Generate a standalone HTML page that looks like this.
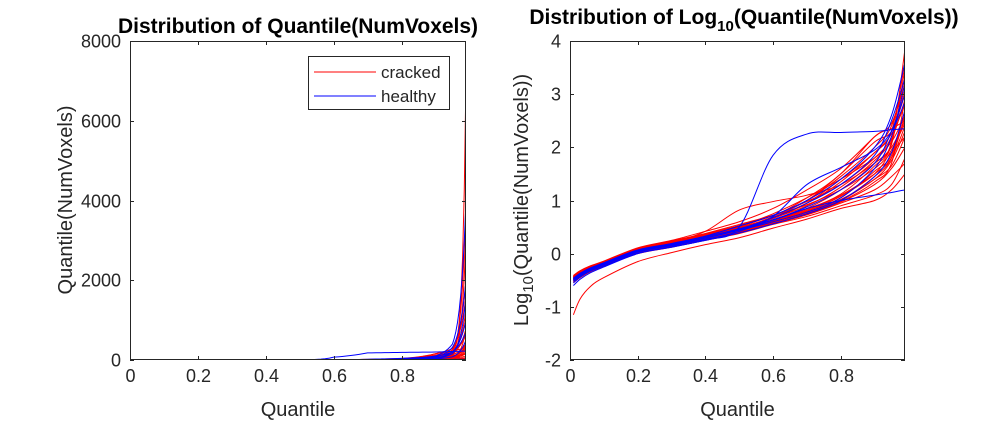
<!DOCTYPE html>
<html><head><meta charset="utf-8"><style>
html,body{margin:0;padding:0;background:#fff;}
svg{display:block;font-family:"Liberation Sans",Arial,sans-serif;}
</style></head><body>
<svg id="chart" width="1000" height="422">
<rect width="1000" height="422" fill="#fff"/>
<g id="left"></g>
<g id="right"></g>
</svg>
<script>
const quantileKnots=[0.01,0.03,0.06,0.1,0.2,0.3,0.4,0.5,0.6,0.7,0.8,0.9,0.95,0.99];
const crackedLog=[
[-0.45,-0.36,-0.27,-0.18,0.05,0.17,0.3,0.45,0.62,0.85,1.2,1.7,2.1,3.85],
[-0.42,-0.33,-0.24,-0.15,0.08,0.2,0.33,0.48,0.66,0.95,1.4,1.9,2.3,3.6],
[-0.5,-0.4,-0.3,-0.2,0.03,0.15,0.28,0.42,0.58,0.75,0.98,1.35,1.7,2.9],
[-0.48,-0.38,-0.28,-0.19,0.06,0.18,0.31,0.46,0.68,1.0,1.45,2.0,2.4,3.3],
[-0.44,-0.35,-0.25,-0.16,0.1,0.23,0.37,0.52,0.75,1.05,1.4,1.8,2.1,2.6],
[-0.55,-0.45,-0.34,-0.24,0.0,0.12,0.25,0.38,0.55,0.7,0.9,1.1,1.3,1.8],
[-0.46,-0.37,-0.27,-0.17,0.07,0.19,0.32,0.47,0.63,0.82,1.1,1.5,1.8,2.4],
[-0.43,-0.34,-0.24,-0.15,0.09,0.22,0.36,0.51,0.72,1.0,1.5,2.1,2.3,3.0],
[-0.47,-0.37,-0.28,-0.18,0.06,0.18,0.3,0.44,0.6,0.78,1.0,1.4,1.65,2.2],
[-0.52,-0.42,-0.31,-0.21,0.02,0.14,0.26,0.4,0.56,0.73,0.95,1.2,1.45,1.7],
[-0.45,-0.36,-0.26,-0.17,0.08,0.21,0.42,0.82,0.98,1.1,1.3,1.7,2.0,2.5],
[-0.41,-0.32,-0.23,-0.14,0.11,0.25,0.42,0.6,0.85,1.2,1.6,2.2,2.45,3.2],
[-0.49,-0.39,-0.29,-0.19,0.04,0.16,0.29,0.43,0.6,0.8,1.05,1.55,1.85,2.7],
[-1.15,-0.85,-0.62,-0.45,-0.15,0.02,0.17,0.3,0.48,0.65,0.85,1.0,1.2,1.5],
[-0.44,-0.35,-0.25,-0.16,0.09,0.22,0.35,0.5,0.67,0.9,1.25,1.75,2.15,2.9],
[-0.5,-0.4,-0.3,-0.2,0.04,0.16,0.29,0.44,0.61,0.78,1.02,1.4,1.75,2.3],
[-0.46,-0.37,-0.27,-0.17,0.07,0.2,0.33,0.48,0.7,1.05,1.5,2.2,2.35,2.5],
[-0.43,-0.34,-0.24,-0.15,0.1,0.24,0.38,0.55,0.72,0.92,1.2,1.6,1.9,2.2],
[-0.53,-0.43,-0.32,-0.22,0.02,0.13,0.26,0.4,0.57,0.74,0.97,1.3,1.6,2.0],
[-0.47,-0.38,-0.28,-0.18,0.05,0.17,0.3,0.45,0.63,0.84,1.12,1.65,2.05,3.5],
[-0.45,-0.36,-0.26,-0.16,0.08,0.21,0.34,0.49,0.68,0.95,1.35,1.9,2.25,2.8],
[-0.51,-0.41,-0.31,-0.21,0.03,0.15,0.27,0.41,0.58,0.76,1.0,1.45,1.8,2.6],
[-0.44,-0.35,-0.25,-0.16,0.09,0.23,0.37,0.53,0.72,0.98,1.3,1.8,2.2,3.1],
[-0.48,-0.38,-0.28,-0.18,0.06,0.18,0.31,0.46,0.62,0.8,1.08,1.5,1.95,2.45]
];
const healthyLog=[
[-0.5,-0.4,-0.3,-0.2,0.04,0.16,0.29,0.44,0.6,0.78,1.05,1.6,2.2,3.2],
[-0.55,-0.44,-0.33,-0.23,0.01,0.13,0.26,0.5,1.85,2.25,2.28,2.3,2.33,2.35],
[-0.48,-0.38,-0.28,-0.18,0.06,0.18,0.3,0.45,0.63,0.85,1.0,1.1,1.15,1.2],
[-0.52,-0.42,-0.31,-0.21,0.03,0.15,0.27,0.42,0.7,1.3,1.62,1.95,2.3,2.85],
[-0.46,-0.37,-0.27,-0.17,0.07,0.19,0.32,0.47,0.64,0.88,1.2,1.7,2.3,3.0],
[-0.6,-0.48,-0.36,-0.25,0.0,0.12,0.25,0.39,0.56,0.75,1.0,1.45,1.9,2.7],
[-0.49,-0.39,-0.29,-0.19,0.05,0.17,0.3,0.46,0.68,0.95,1.3,1.85,2.5,3.3],
[-0.47,-0.37,-0.27,-0.18,0.06,0.19,0.33,0.52,0.72,1.0,1.4,2.0,2.6,3.6]
];
const xTicks=[0,0.2,0.4,0.6,0.8];
const leftYTicks=[0,2000,4000,6000,8000];
const rightYTicks=[-2,-1,0,1,2,3,4];
const NS="http://www.w3.org/2000/svg";
function mk(parent,tag,attrs){const e=document.createElementNS(NS,tag);for(const k in attrs)e.setAttribute(k,attrs[k]);parent.appendChild(e);return e;}
function pathFrom(pts){let d="M"+pts[0][0].toFixed(2)+","+pts[0][1].toFixed(2);
 for(let i=0;i<pts.length-1;i++){const p0=pts[Math.max(0,i-1)],p1=pts[i],p2=pts[i+1],p3=pts[Math.min(pts.length-1,i+2)];
 const c1=[p1[0]+(p2[0]-p0[0])/6,p1[1]+(p2[1]-p0[1])/6],c2=[p2[0]-(p3[0]-p1[0])/6,p2[1]-(p3[1]-p1[1])/6];
 d+="C"+c1[0].toFixed(2)+","+c1[1].toFixed(2)+" "+c2[0].toFixed(2)+","+c2[1].toFixed(2)+" "+p2[0].toFixed(2)+","+p2[1].toFixed(2);}
 return d;}
function drawAxes(g,o){
 const {x0,x1,y0,y1,xmax,ymin,ymax,yTicks,transform,sub}=o;
 const X=v=>x0+v/xmax*(x1-x0), Y=v=>y1-(v-ymin)/(ymax-ymin)*(y1-y0);
 const clipId="clip"+x0;
 const cp=mk(g,"clipPath",{id:clipId});mk(cp,"rect",{x:x0,y:y0,width:x1-x0,height:y1-y0});
 const lines=mk(g,"g",{"clip-path":"url(#"+clipId+")"});
 
 
 const draw=(arr,col,name)=>arr.forEach((c,i)=>{
  let pts, d;
  if(sub){
   pts=[];for(let j=0;j<quantileKnots.length-1;j++){for(let s=0;s<8;s++){const t=s/8;const q=quantileKnots[j]+(quantileKnots[j+1]-quantileKnots[j])*t;const v=c[j]+(c[j+1]-c[j])*t;pts.push([X(q),Y(transform(v))]);}}
   pts.push([X(quantileKnots[quantileKnots.length-1]),Y(transform(c[c.length-1]))]);
   d="M"+pts.map(p=>p[0].toFixed(2)+","+p[1].toFixed(2)).join("L");
  } else {pts=quantileKnots.map((q,j)=>[X(q),Y(transform(c[j]))]);d=pathFrom(pts);}
  const p=mk(lines,"path",{d:d,fill:"none",stroke:col,"stroke-width":1});
  
  
 });
 draw(crackedLog,"#ff0000","cracked");
 draw(healthyLog,"#0000ff","healthy");
 const box=mk(g,"rect",{x:x0+0.5,y:y0+0.5,width:x1-x0-1,height:y1-y0-1,fill:"none",stroke:"#262626","stroke-width":1});
 
 
 xTicks.forEach(t=>{const x=Math.round(X(t))+0.5;
  mk(g,"line",{x1:x,x2:x,y1:y1,y2:y1-4,stroke:"#262626"});mk(g,"line",{x1:x,x2:x,y1:y0,y2:y0+4,stroke:"#262626"});
  const tx=mk(g,"text",{x:x,y:y1+22,"text-anchor":"middle","font-size":18,fill:"#262626"});tx.textContent=String(t);
  
  });
 yTicks.forEach(t=>{const y=Math.round(Y(t))+0.5;
  mk(g,"line",{x1:x0,x2:x0+4,y1:y,y2:y,stroke:"#262626"});mk(g,"line",{x1:x1-4,x2:x1,y1:y,y2:y,stroke:"#262626"});
  const tx=mk(g,"text",{x:x0-9,y:y+6,"text-anchor":"end","font-size":18,fill:"#262626"});tx.textContent=String(t);
  
  });
 const xl=mk(g,"text",{x:(x0+x1)/2,y:y1+56,"text-anchor":"middle","font-size":20,fill:"#262626"});xl.textContent="Quantile";
 
 
}
drawAxes(document.getElementById("left"),{x0:130,x1:466,y0:41,y1:360,xmax:0.99,ymin:0,ymax:8000,yTicks:leftYTicks,transform:v=>Math.pow(10,v),sub:true});
drawAxes(document.getElementById("right"),{x0:570,x1:905,y0:41,y1:360,xmax:0.99,ymin:-2,ymax:4,yTicks:rightYTicks,transform:v=>v,sub:false});
</script>
<svg style="position:absolute;left:0;top:0" width="1000" height="422">
<text x="298" y="33" text-anchor="middle" font-size="21" font-weight="bold" fill="#000">Distribution of Quantile(NumVoxels)</text>
<text x="744" y="24" text-anchor="middle" font-size="21" font-weight="bold" fill="#000">Distribution of Log<tspan font-size="15" dy="7">10</tspan><tspan dy="-7">(Quantile(NumVoxels))</tspan></text>
<text transform="translate(72,200) rotate(-90)" text-anchor="middle" font-size="20" fill="#262626">Quantile(NumVoxels)</text>
<text transform="translate(528,200) rotate(-90)" text-anchor="middle" font-size="20" fill="#262626">Log<tspan font-size="15" dy="5">10</tspan><tspan dy="-5">(Quantile(NumVoxels))</tspan></text>
<g>
<rect x="308.5" y="56.5" width="141" height="53" fill="#fff" stroke="#262626"/>
<line x1="314" x2="376" y1="72" y2="72" stroke="#ff0000"/>
<text x="381" y="78" font-size="17" fill="#262626">cracked</text>
<line x1="314" x2="376" y1="96" y2="96" stroke="#0000ff"/>
<text x="381" y="102" font-size="17" fill="#262626">healthy</text>
</g>
</svg>
</body></html>
